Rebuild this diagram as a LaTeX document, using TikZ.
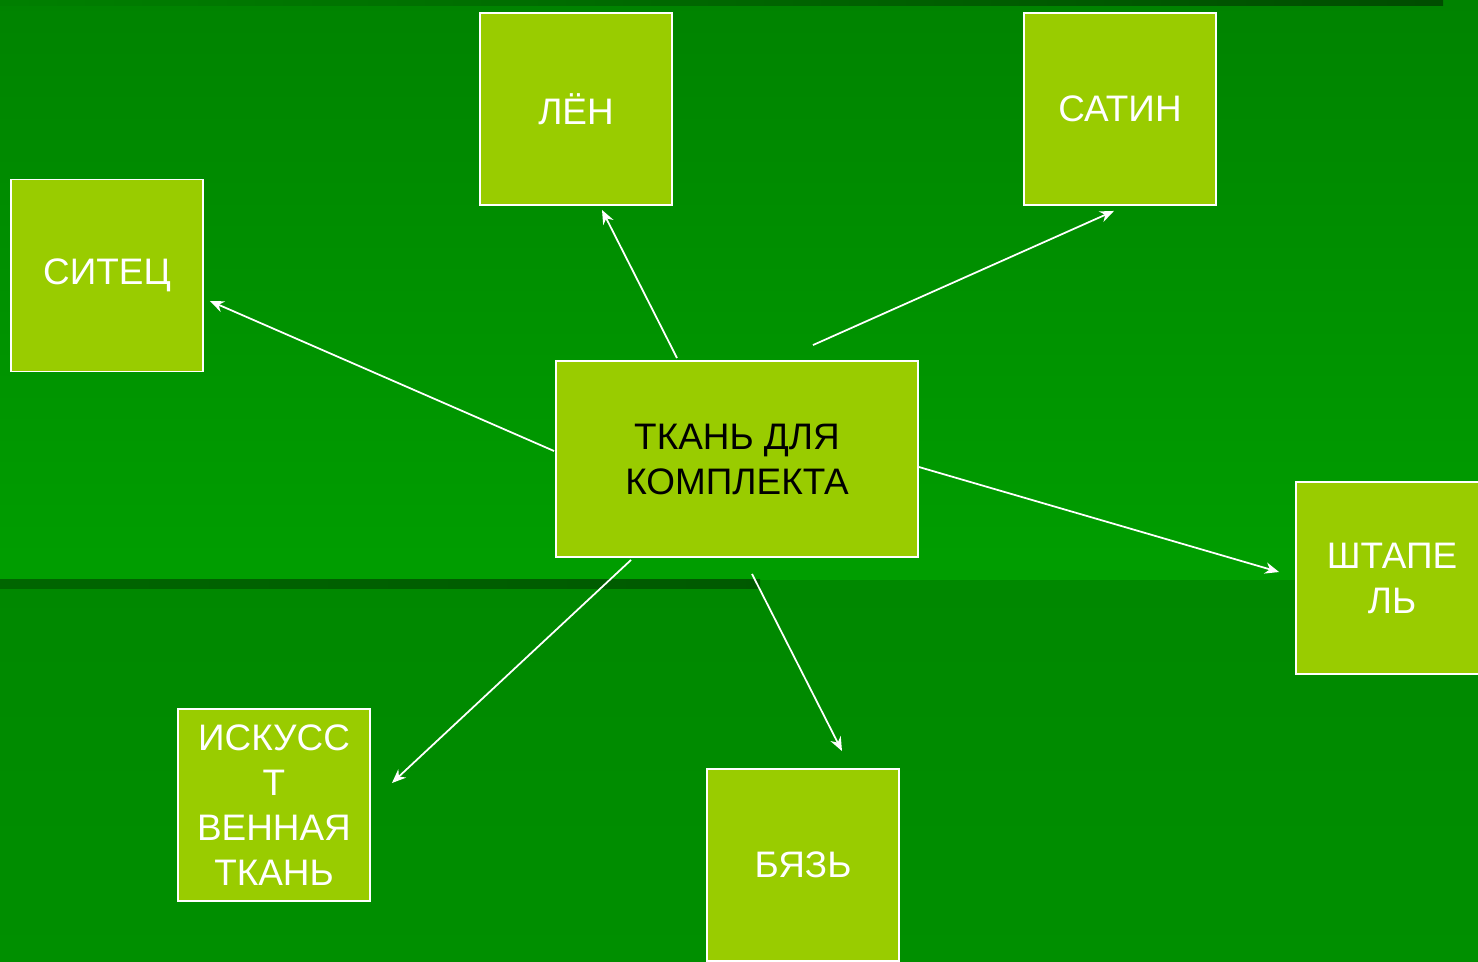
\documentclass[tikz,border=0pt]{standalone}
\usepackage{fontspec}
\setmainfont{Liberation Sans}
\usetikzlibrary{arrows.meta}

\definecolor{boxgreen}{HTML}{99CC00}
\definecolor{bgtop}{HTML}{008300}
\definecolor{bgmid}{HTML}{009E00}
\definecolor{bglow}{HTML}{008800}
\definecolor{bgbottom}{HTML}{008F00}

\tikzset{
  tkanbox/.style={draw=white, line width=1.1pt, fill=boxgreen, minimum width=3.84cm,
    minimum height=3.84cm, align=center, text=white, inner sep=2pt,
    font=\fontsize{21}{25.6}\selectfont},
  link/.style={white, line width=1pt, -{Stealth[length=8pt,width=6.5pt]}}
}

\begin{document}
\begin{tikzpicture}[x=0.02cm,y=-0.02cm]
\useasboundingbox (0,0) rectangle (1478,961);
\clip (0,0) rectangle (1478,961);
% background
\shade[top color=bgtop, bottom color=bgmid] (0,0) rectangle (1478,580);
\shade[top color=bglow, bottom color=bgbottom] (0,580) rectangle (1478,961);
\shade[left color=green!50!black, right color=green!30!black] (0,0) rectangle (1443,5);
\shade[left color=green!40!black, right color=green!35!black] (0,579) rectangle (760,588);

% boxes
\node[tkanbox] (len) at (576,109) {ЛЁН};
\node[tkanbox] (satin) at (1120,109) {САТИН};
\node[tkanbox] (sitec) at (107,275.5) {СИТЕЦ};
\node[tkanbox, minimum width=7.24cm, minimum height=3.92cm, text=black] (tkan) at (737,459)
  {ТКАНЬ ДЛЯ\\КОМПЛЕКТА};
\node[tkanbox] (shtapel) at (1392,578) {ШТАПЕ\\ЛЬ};
\node[tkanbox] (iskus) at (274,805) {ИСКУСС\\Т\\ВЕННАЯ\\ТКАНЬ};
\node[tkanbox] (byaz) at (803,865) {БЯЗЬ};

% arrows
\draw[link] ([xshift=-1.2cm,yshift=0.04cm]tkan.north) -- ([xshift=0.52cm,yshift=-0.08cm]len.south);
\draw[link] ([xshift=1.52cm,yshift=0.3cm]tkan.north) -- ([xshift=-0.12cm,yshift=-0.1cm]satin.south);
\draw[link] ([xshift=-0.02cm,yshift=0.16cm]tkan.west) -- ([xshift=0.12cm,yshift=-0.51cm]sitec.east);
\draw[link] ([yshift=-0.16cm]tkan.east) -- ([xshift=-0.32cm,yshift=0.12cm]shtapel.west);
\draw[link] ([xshift=-2.12cm,yshift=-0.04cm]tkan.south) -- ([xshift=0.42cm,yshift=0.44cm]iskus.east);
\draw[link] ([xshift=0.3cm,yshift=-0.32cm]tkan.south) -- ([xshift=0.78cm,yshift=0.34cm]byaz.north);
\end{tikzpicture}
\end{document}
